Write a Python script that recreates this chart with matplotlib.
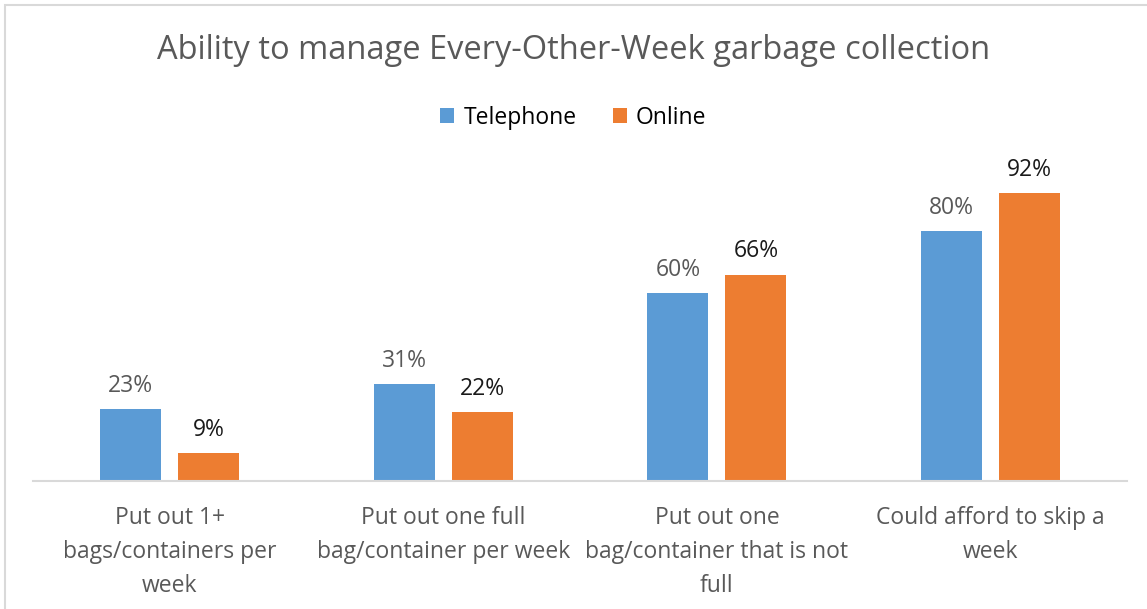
import matplotlib.pyplot as plt
import numpy as np
from matplotlib.patches import Rectangle

plt.rcParams['font.family'] = ['Open Sans', 'DejaVu Sans']

# data
categories = [
    "Put out 1+\nbags/containers per\nweek",
    "Put out one full\nbag/container per week",
    "Put out one\nbag/container that is not\nfull",
    "Could afford to skip a\nweek",
]
telephone = [23, 31, 60, 80]
online = [9, 22, 66, 92]

blue = "#5b9bd5"
orange = "#ed7d31"

fig = plt.figure(figsize=(11.47, 6.09), dpi=100)
ax = fig.add_axes([0.0288, 0.210, 0.954, 0.514])

x = np.arange(len(categories))
w = 0.223
off = 0.1426
b1 = ax.bar(x - off, telephone, w, color=blue, label="Telephone")
b2 = ax.bar(x + off, online, w, color=orange, label="Online")

# value labels
for rect, v in zip(b1, telephone):
    ax.annotate(f"{v}%", (rect.get_x() + rect.get_width() / 2, v),
                xytext=(0, 8), textcoords="offset points",
                ha="center", va="bottom", fontsize=16.5, color="#595959")
for rect, v in zip(b2, online):
    ax.annotate(f"{v}%", (rect.get_x() + rect.get_width() / 2, v),
                xytext=(0, 8), textcoords="offset points",
                ha="center", va="bottom", fontsize=16.5, color="#1a1a1a")

ax.set_xlim(-0.5, 3.5)
ax.set_ylim(0, 100)
ax.set_yticks([])
ax.set_xticks(x)
ax.set_xticklabels(categories, fontsize=16.5, color="#595959", linespacing=1.55)
ax.tick_params(axis="x", length=0, pad=18)
for s in ["top", "right", "left"]:
    ax.spines[s].set_visible(False)
ax.spines["bottom"].set_color("#d9d9d9")
ax.spines["bottom"].set_linewidth(1.5)

fig.text(0.5, 0.917, "Ability to manage Every-Other-Week garbage collection",
         ha="center", va="center", fontsize=23.5, color="#595959")

fig.legend(handles=[b1, b2], loc="center", bbox_to_anchor=(0.5, 0.807),
           ncol=2, frameon=False, fontsize=16.5, handlelength=0.6,
           handleheight=0.6, handletextpad=0.4, columnspacing=1.6)

# chart border
fig.patches.append(Rectangle((5 / 1147, -0.01), 1.02, 1 - 5 / 609 + 0.01,
                             transform=fig.transFigure, fill=False,
                             edgecolor="#d9d9d9", linewidth=1.5))

plt.savefig("out.png", dpi=100)
